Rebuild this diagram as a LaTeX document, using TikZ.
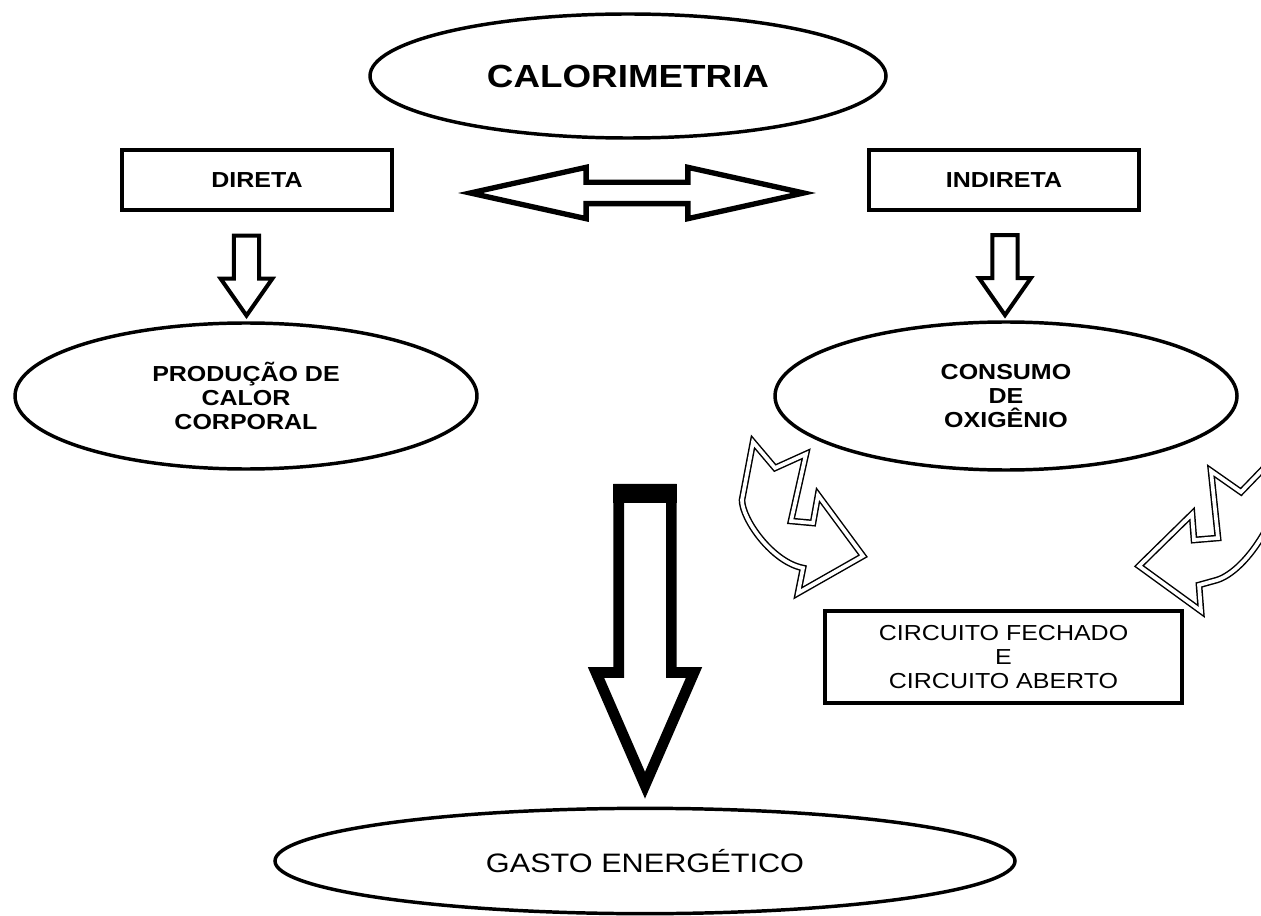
\documentclass[tikz,border=0pt]{standalone}
\usepackage{fontspec}
\setmainfont{Liberation Sans}[FakeStretch=1.15]
\usetikzlibrary{shapes.geometric,shapes.arrows,calc}

\tikzset{
  oval/.style={ellipse, draw, line width=2.6pt, inner sep=0pt, align=center,
    font=\fontsize{16.3}{18}\selectfont\bfseries},
  caixa/.style={rectangle, draw, line width=3pt, inner sep=0pt, align=center,
    font=\fontsize{16.3}{18}\selectfont\bfseries},
  setinha/.style={single arrow, draw, line width=3pt, shape border rotate=270,
    inner sep=7.9pt, minimum height=60pt, single arrow head extend=10pt,
    single arrow tip angle=70},
  setona/.style={single arrow, draw, line width=8pt, shape border rotate=270,
    inner sep=15.75pt, minimum height=222pt, single arrow head extend=17pt,
    single arrow tip angle=47},
  dupla/.style={double arrow, draw, line width=4pt, inner sep=6pt,
    minimum height=250pt, double arrow head extend=11.25pt,
    double arrow tip angle=25},
  curva/.style={draw, fill=white, line width=1.1pt, double=white,
    double distance=2.8pt, line join=miter}
}

\begin{document}
\begin{tikzpicture}[x=0.75pt, y=-0.75pt]
  \useasboundingbox (0,0) rectangle (1261,916);

  \node[oval, minimum width=387pt, minimum height=93pt,
    font=\fontsize{24}{28}\selectfont\bfseries] (calor) at (628,76) {CALORIMETRIA};

  \foreach \nome/\txt/\x in {direta/DIRETA/257, indireta/INDIRETA/1004} {
    \node[caixa, minimum width=202.5pt, minimum height=45pt] (\nome) at (\x,180) {\txt};
  }

  \node[oval, minimum width=346.5pt, minimum height=109.5pt] (prod) at (246,396)
    {PRODUÇÃO DE\\CALOR\\CORPORAL};
  \node[oval, minimum width=346.5pt, minimum height=111pt] (cons) at (1006,396)
    {CONSUMO\\DE\\OXIGÊNIO};
  \node[caixa, minimum width=267.75pt, minimum height=69pt, font=\fontsize{16.3}{18}\selectfont]
    (circ) at (1003.5,657) {CIRCUITO FECHADO\\E\\CIRCUITO ABERTO};
  \node[oval, minimum width=555pt, minimum height=79pt, font=\fontsize{20}{24}\selectfont]
    (gasto) at (645,861) {GASTO ENERGÉTICO};

  % setas de bloco
  \node[dupla] (dupla) at (637,193) {};
  \node[setinha] (s-dir) at ($(direta.south)!0.5!(prod.north)+(-5,0)$) {};
  \node[setinha] (s-ind) at ($(indireta.south)!0.5!(cons.north)$) {};
  \node[setona, anchor=tip] (s-gasto) at ([yshift=6pt]gasto.north) {};
  \fill (s-gasto.before tail) rectangle ([yshift=-14pt]s-gasto.after tail);

  % setas curvas
  \begin{scope}
    \clip (0,0) rectangle (1261,916);
    \path[curva] (753,442) -- (775,468) -- (806,454) -- (791,521) -- (813,523)
      -- (818,495) -- (863,556) -- (798,593) -- (803,568)
      .. controls (772,562) and (742,519) .. (742,500) -- cycle;
    \path[curva] (1211,471) -- (1241,492) -- (1268,464) -- (1268,526)
      .. controls (1250,560) and (1230,576) .. (1217,580) -- (1199,585)
      -- (1201,611) -- (1139,566) -- (1192,514) -- (1194,540) -- (1218,538) -- cycle;
  \end{scope}
\end{tikzpicture}
\end{document}
